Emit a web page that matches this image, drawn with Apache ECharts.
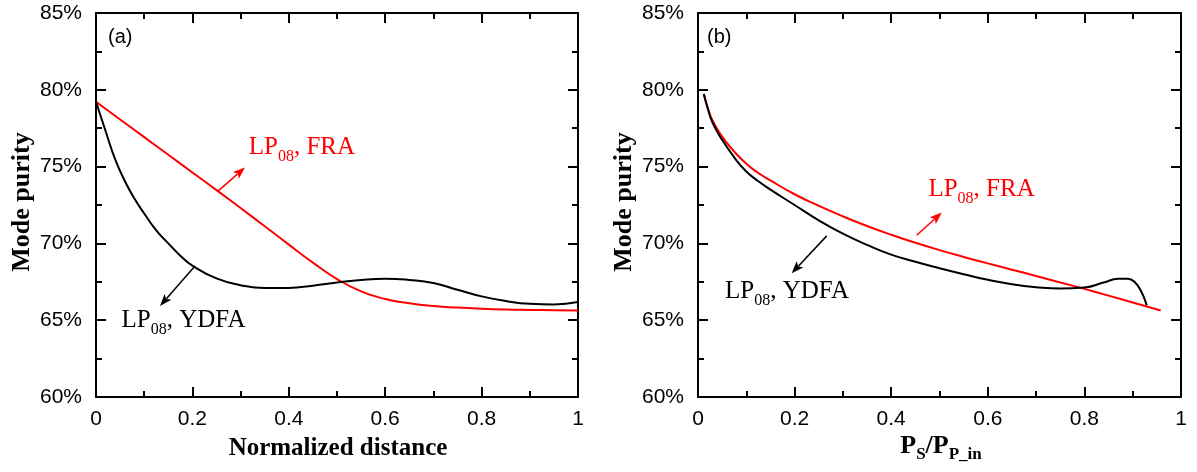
<!DOCTYPE html>
<html><head><meta charset="utf-8">
<script src="https://cdn.jsdelivr.net/npm/echarts@6/dist/echarts.min.js"></script>
<style>html,body{margin:0;padding:0;background:#fff}#c{width:1197px;height:472px}</style>
</head><body><div id="c"></div>
<script>
// ---------- data ----------
const xTickLabels = ['0', '0.2', '0.4', '0.6', '0.8', '1'];
const yTickLabels = ['60%', '65%', '70%', '75%', '80%', '85%'];

// (a) vs normalized distance
const distFRA = [0, 0.05, 0.1, 0.15, 0.2, 0.25, 0.3, 0.35, 0.4, 0.45, 0.5, 0.55, 0.6, 0.65, 0.7, 0.75, 0.8, 0.85, 0.9, 0.95, 1];
const purityFRA_a = [79.22, 78.07, 76.92, 75.77, 74.62, 73.47, 72.3, 71.12, 69.92, 68.75, 67.68, 66.88, 66.38, 66.1, 65.92, 65.82, 65.75, 65.7, 65.67, 65.65, 65.63];
const distYDFA = [0, 0.02, 0.04, 0.06, 0.08, 0.1, 0.125, 0.15, 0.175, 0.2, 0.25, 0.3, 0.35, 0.4, 0.45, 0.5, 0.55, 0.6, 0.65, 0.7, 0.75, 0.8, 0.85, 0.9, 0.95, 1];
const purityYDFA_a = [79.22, 77.3, 75.45, 74.05, 72.9, 71.95, 70.85, 70.0, 69.2, 68.55, 67.72, 67.28, 67.1, 67.1, 67.25, 67.45, 67.62, 67.7, 67.62, 67.42, 66.98, 66.55, 66.25, 66.07, 66.03, 66.19];

// (b) vs Ps/Pp_in
const ratioFRA = [0.012, 0.02, 0.03, 0.05, 0.075, 0.1, 0.125, 0.15, 0.2, 0.25, 0.3, 0.35, 0.4, 0.45, 0.5, 0.55, 0.6, 0.65, 0.7, 0.75, 0.8, 0.85, 0.9, 0.958];
const purityFRA_b = [79.72, 78.85, 78.0, 76.95, 75.98, 75.19, 74.58, 74.1, 73.2, 72.45, 71.76, 71.13, 70.56, 70.04, 69.56, 69.12, 68.7, 68.29, 67.88, 67.46, 67.04, 66.6, 66.15, 65.63];
const ratioYDFA = [0.012, 0.02, 0.03, 0.05, 0.075, 0.1, 0.125, 0.15, 0.2, 0.25, 0.3, 0.35, 0.4, 0.45, 0.5, 0.55, 0.6, 0.65, 0.7, 0.75, 0.8, 0.84, 0.87, 0.89, 0.905, 0.918, 0.929];
const purityYDFA_b = [79.72, 78.8, 77.87, 76.74, 75.6, 74.68, 74.05, 73.5, 72.5, 71.5, 70.63, 69.9, 69.27, 68.8, 68.38, 67.99, 67.63, 67.34, 67.15, 67.06, 67.13, 67.45, 67.7, 67.7, 67.45, 66.85, 65.97];

// annotations (data coordinates): [x, y] of text baseline-left, arrow tail, arrow head
const annA_FRA = { text: [0.317, 75.53], tail: [0.2537, 73.42], head: [0.309, 74.94] };
const annA_YDFA = { text: [0.053, 64.30], tail: [0.2054, 68.53], head: [0.1328, 65.93] };
const annB_FRA = { text: [0.477, 72.83], tail: [0.4528, 70.53], head: [0.5046, 72.01] };
const annB_YDFA = { text: [0.056, 66.19], tail: [0.2665, 70.49], head: [0.194, 68.06] };

// ---------- chart ----------
const zip = (xs, ys) => xs.map((x, i) => [x, ys[i]]);
const AX = '#000';
const SANS = '"Liberation Sans", Arial, sans-serif';
const SERIF = '"Liberation Serif", "Times New Roman", serif';

function xAx(gi, pos) {
  return {
    type: 'value', gridIndex: gi, position: pos, min: 0, max: 1, interval: 0.2,
    axisLine: { show: true, onZero: false, lineStyle: { color: AX, width: 2 } },
    axisTick: { show: true, inside: true, length: 10, lineStyle: { color: AX, width: 2 } },
    minorTick: { show: true, splitNumber: 2, length: 6, lineStyle: { color: AX, width: 2 } },
    splitLine: { show: false }, minorSplitLine: { show: false },
    axisLabel: {
      show: pos === 'bottom', margin: 12, color: '#000', fontSize: 21, fontFamily: SANS,
      hideOverlap: false, showMinLabel: true, showMaxLabel: true,
      formatter: v => xTickLabels[Math.round(v / 0.2)]
    }
  };
}
function yAx(gi, pos) {
  return {
    type: 'value', gridIndex: gi, position: pos, min: 60, max: 85, interval: 5,
    axisLine: { show: true, onZero: false, lineStyle: { color: AX, width: 2 } },
    axisTick: { show: true, inside: true, length: 10, lineStyle: { color: AX, width: 2 } },
    minorTick: { show: true, splitNumber: 2, length: 6, lineStyle: { color: AX, width: 2 } },
    splitLine: { show: false }, minorSplitLine: { show: false },
    axisLabel: {
      show: pos === 'left', margin: 14, color: '#000', fontSize: 21, fontFamily: SANS,
      hideOverlap: false, showMinLabel: true, showMaxLabel: true,
      formatter: v => yTickLabels[Math.round((v - 60) / 5)]
    }
  };
}
function line(name, data, xi, yi, color) {
  return {
    type: 'line', name, data, xAxisIndex: xi, yAxisIndex: yi, showSymbol: false, symbol: 'none',
    smooth: 0.5, lineStyle: { color, width: 2 }, itemStyle: { color },
    silent: true, z: 3
  };
}

const chart = echarts.init(document.getElementById('c'));
chart.setOption({
  animation: false,
  backgroundColor: '#fff',
  grid: [
    { left: 96, top: 13, width: 482, height: 384, outerBoundsMode: 'none', containLabel: false },
    { left: 698, top: 13, width: 483, height: 384, outerBoundsMode: 'none', containLabel: false }
  ],
  xAxis: [xAx(0, 'bottom'), xAx(0, 'top'), xAx(1, 'bottom'), xAx(1, 'top')],
  yAxis: [yAx(0, 'left'), yAx(0, 'right'), yAx(1, 'left'), yAx(1, 'right')],
  series: [
    line('LP08, FRA (a)', zip(distFRA, purityFRA_a), 0, 0, '#ff0000'),
    line('LP08, YDFA (a)', zip(distYDFA, purityYDFA_a), 0, 0, '#000000'),
    line('LP08, FRA (b)', zip(ratioFRA, purityFRA_b), 2, 2, '#ff0000'),
    line('LP08, YDFA (b)', zip(ratioYDFA, purityYDFA_b), 2, 2, '#000000')
  ]
});

// ---------- annotations ----------
const gfx = [];
const toPx = (si, p) => chart.convertToPixel({ seriesIndex: si }, p);

function richLabel(x, yTop, color, parts, mainSize, subSize, weight, align) {
  let text = parts.map(p => p[1] ? '{s|' + p[0] + '}' : '{m|' + p[0] + '}').join('');
  gfx.push({
    type: 'text', x: x, y: yTop, silent: true, z: 10,
    style: {
      text: text, fill: color, align: align || 'left', verticalAlign: 'top',
      textAlign: align || 'left', textVerticalAlign: 'top',
      rich: {
        m: { fontSize: mainSize, fontFamily: SERIF, fontWeight: weight || 'normal', lineHeight: 30, verticalAlign: 'top', fill: color, color: color },
        s: { fontSize: subSize, fontFamily: SERIF, fontWeight: weight || 'normal', lineHeight: 10, verticalAlign: 'bottom', fill: color, color: color }
      }
    }
  });
}
function annot(si, ann, color, label) {
  const t = toPx(si, ann.text);
  richLabel(t[0], t[1] - 23.4, color, [['LP', 0], ['08', 1], [label, 0]], 25, 16);
  const a = toPx(si, ann.tail), b = toPx(si, ann.head);
  const dx = b[0] - a[0], dy = b[1] - a[1], L = Math.hypot(dx, dy);
  const ux = dx / L, uy = dy / L, hl = 12, hw = 4.5;
  const bx = b[0] - ux * hl, by = b[1] - uy * hl;
  gfx.push({ type: 'line', silent: true, z: 10, shape: { x1: a[0], y1: a[1], x2: bx + ux * 2, y2: by + uy * 2 }, style: { stroke: color, lineWidth: 1.5 } });
  gfx.push({
    type: 'polygon', silent: true, z: 10,
    shape: { points: [[b[0], b[1]], [bx - uy * hw, by + ux * hw], [bx + ux * 2.5, by + uy * 2.5], [bx + uy * hw, by - ux * hw]] },
    style: { fill: color }
  });
}
annot(0, annA_FRA, '#ff0000', ', FRA');
annot(1, annA_YDFA, '#000000', ', YDFA');
annot(2, annB_FRA, '#ff0000', ', FRA');
annot(3, annB_YDFA, '#000000', ', YDFA');

// panel tags
gfx.push({ type: 'text', x: 108, y: 37, silent: true, style: { text: '(a)', fill: '#000', font: '20px ' + SANS, align: 'left', verticalAlign: 'middle', textAlign: 'left', textVerticalAlign: 'middle' } });
gfx.push({ type: 'text', x: 707, y: 37, silent: true, style: { text: '(b)', fill: '#000', font: '20px ' + SANS, align: 'left', verticalAlign: 'middle', textAlign: 'left', textVerticalAlign: 'middle' } });

// axis titles
[22, 624].forEach(x => gfx.push({
  type: 'text', x: x, y: 202, rotation: Math.PI / 2, silent: true,
  style: { text: 'Mode purity', fill: '#000', font: 'bold 26px ' + SERIF, align: 'center', verticalAlign: 'middle', textAlign: 'center', textVerticalAlign: 'middle' }
}));
gfx.push({
  type: 'text', x: 338, y: 449, silent: true,
  style: { text: 'Normalized distance', fill: '#000', font: 'bold 25px ' + SERIF, align: 'center', verticalAlign: 'middle', textAlign: 'center', textVerticalAlign: 'middle' }
});
richLabel(941, 457 - 23.4, '#000', [['P', 0], ['S', 1], ['/P', 0], ['P_in', 1]], 26, 17, 'bold', 'center');

chart.setOption({ graphic: gfx });
</script>
</body></html>
